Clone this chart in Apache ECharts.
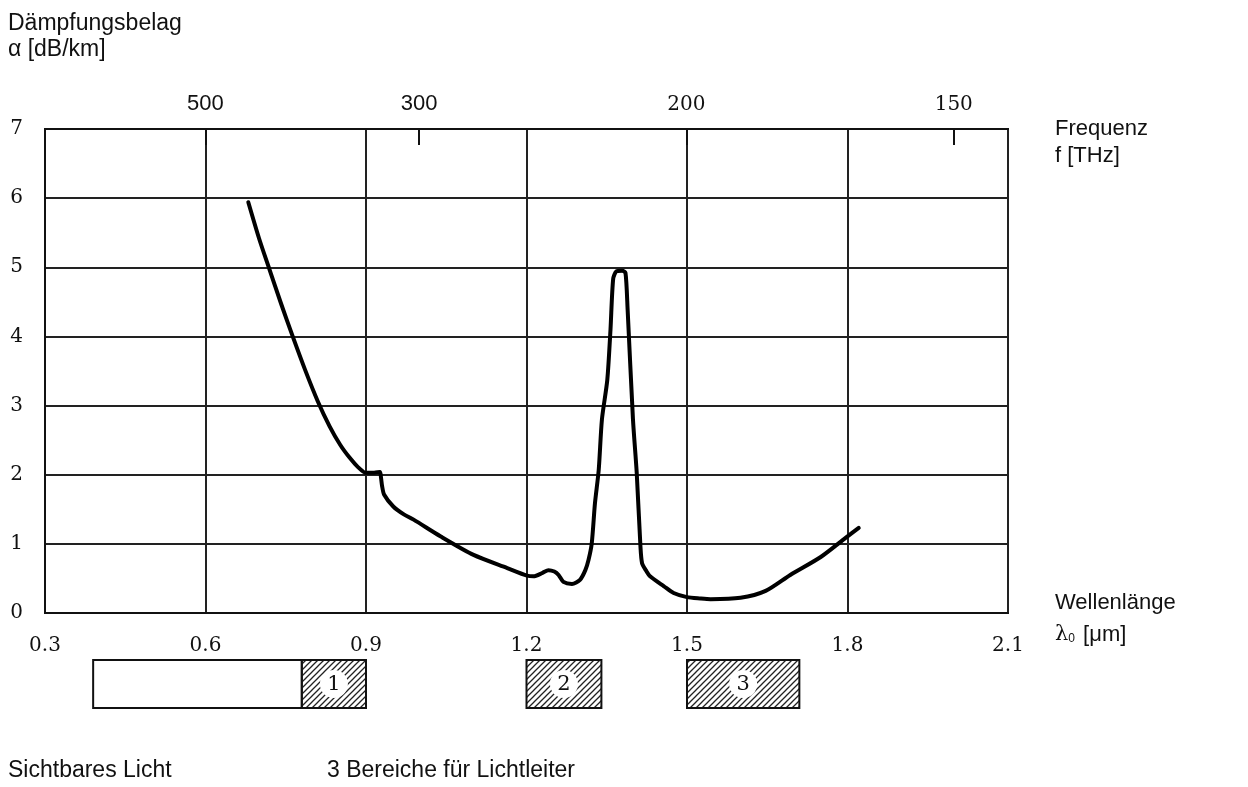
<!DOCTYPE html>
<html>
<head>
<meta charset="utf-8">
<title>Dämpfungsbelag</title>
<script src="https://cdn.jsdelivr.net/npm/echarts@6/dist/echarts.min.js"></script>
<style>
  html, body { margin: 0; padding: 0; background: #fff; }
  #tu { width: 1248px; height: 787px; }
</style>
</head>
<body>
<div id="tu"></div>
<script>
// Wellenlänge in µm und Dämpfung in dB/km
var lambda = [0.680, 0.700, 0.720, 0.741, 0.763, 0.786, 0.810, 0.832, 0.852, 0.870,
  0.885, 0.899, 0.915, 0.926, 0.928, 0.930, 0.934, 0.951, 0.970, 0.989,
  1.039, 1.101, 1.164, 1.201, 1.213, 1.230, 1.241, 1.252, 1.260, 1.269,
  1.285, 1.300, 1.310, 1.316, 1.322, 1.328, 1.335, 1.341, 1.351, 1.357,
  1.362, 1.368, 1.379, 1.385, 1.389, 1.399, 1.406, 1.413, 1.416, 1.423,
  1.431, 1.457, 1.475, 1.500, 1.525, 1.544, 1.600, 1.647, 1.693, 1.750, 1.797, 1.821];
var alpha = [5.94, 5.42, 4.96, 4.48, 4.00, 3.52, 3.06, 2.70, 2.43, 2.24,
  2.11, 2.03, 2.03, 2.04, 1.96, 1.84, 1.71, 1.54, 1.43, 1.35,
  1.11, 0.84, 0.65, 0.54, 0.53, 0.58, 0.62, 0.60, 0.55, 0.45,
  0.42, 0.48, 0.62, 0.77, 1.01, 1.59, 2.07, 2.80, 3.37, 4.10,
  4.83, 4.94, 4.95, 4.92, 4.39, 2.80, 2.03, 0.96, 0.72, 0.62,
  0.53, 0.385, 0.29, 0.23, 0.21, 0.20, 0.22, 0.32, 0.55, 0.81, 1.09, 1.23];

// obere Achse: Frequenz in THz
var freqLabels = [500, 300, 200, 150];

// Bereiche unter dem Diagramm
var bandStart = [0.39, 0.78, 1.20, 1.50];
var bandEnd = [0.78, 0.90, 1.34, 1.71];
var bandLabel = ['', '1', '2', '3'];
var bandHatched = [false, true, true, true];

var C = 299.79; // c in µm*THz
var freqPos = freqLabels.map(function (f) { return C / f; });

var curve = lambda.map(function (l, i) { return [l, alpha[i]]; });
var bands = bandStart.map(function (s, i) { return [s, bandEnd[i], i]; });

// Schraffur als Muster
var hatch = document.createElement('canvas');
hatch.width = 6;
hatch.height = 6;
var hc = hatch.getContext('2d');
hc.strokeStyle = '#222';
hc.lineWidth = 1.3;
hc.beginPath();
hc.moveTo(0, 6); hc.lineTo(6, 0);
hc.moveTo(-1, 1); hc.lineTo(1, -1);
hc.moveTo(5, 7); hc.lineTo(7, 5);
hc.stroke();

var serif = 'DejaVu Serif';
var sans = 'Liberation Sans';

var myChart = echarts.init(document.getElementById('tu'));

var option = {
  backgroundColor: '#fff',
  animation: false,
  grid: [
    { left: 45, top: 129, width: 963, height: 484, show: true, borderColor: '#111', borderWidth: 2 },
    { left: 45, top: 660, width: 963, height: 48 }
  ],
  xAxis: [
    {
      type: 'value', gridIndex: 0, position: 'bottom',
      min: 0.3, max: 2.1, interval: 0.3,
      axisLine: { show: true, lineStyle: { color: '#111', width: 2 } },
      axisTick: { show: false },
      splitLine: { show: true, lineStyle: { color: '#222', width: 2 } },
      axisLabel: {
        margin: 23, color: '#111', fontFamily: serif, fontSize: 20,
        formatter: function (v) { return v.toFixed(1); }
      }
    },
    {
      type: 'value', gridIndex: 0, position: 'top',
      min: 0.3, max: 2.1,
      axisLine: { show: true, lineStyle: { color: '#111', width: 2 } },
      axisTick: { show: true, inside: true, length: 16, customValues: freqPos, lineStyle: { color: '#111', width: 2 } },
      splitLine: { show: false },
      axisLabel: {
        margin: 14, color: '#111', fontSize: 20,
        customValues: freqPos,
        formatter: function (v) {
          var f = Math.round(C / v);
          return f >= 300 ? '{s|' + f + '}' : '{r|' + f + '}';
        },
        rich: {
          s: { fontFamily: sans, fontSize: 22, color: '#111' },
          r: { fontFamily: serif, fontSize: 20, color: '#111' }
        }
      }
    },
    { type: 'value', gridIndex: 1, min: 0.3, max: 2.1, show: false }
  ],
  yAxis: [
    {
      type: 'value', gridIndex: 0,
      min: 0, max: 7, interval: 1,
      axisLine: { show: true, lineStyle: { color: '#111', width: 2 } },
      axisTick: { show: false },
      splitLine: { show: true, lineStyle: { color: '#222', width: 2 } },
      axisLabel: {
        margin: 22, color: '#111', fontFamily: serif, fontSize: 20,
        verticalAlign: 'middle', padding: [0, 0, 6, 0]
      }
    },
    { type: 'value', gridIndex: 1, min: 0, max: 1, show: false }
  ],
  series: [
    {
      type: 'line', xAxisIndex: 0, yAxisIndex: 0,
      data: curve,
      showSymbol: false,
      smooth: 0.25,
      lineStyle: { color: '#000', width: 4, cap: 'round', join: 'round' }
    },
    {
      type: 'custom', xAxisIndex: 2, yAxisIndex: 1,
      data: bands,
      renderItem: function (params, api) {
        var i = api.value(2);
        var p0 = api.coord([api.value(0), 1]);
        var p1 = api.coord([api.value(1), 0]);
        var children = [{
          type: 'rect',
          shape: { x: p0[0], y: p0[1], width: p1[0] - p0[0], height: p1[1] - p0[1] },
          style: {
            fill: bandHatched[i] ? { image: hatch, repeat: 'repeat' } : '#fff',
            stroke: '#111', lineWidth: 2
          }
        }];
        if (bandLabel[i]) {
          var cx = (p0[0] + p1[0]) / 2, cy = (p0[1] + p1[1]) / 2;
          children.push({ type: 'circle', shape: { cx: cx, cy: cy, r: 14 }, style: { fill: '#fff' } });
          children.push({
            type: 'text', x: cx, y: cy + 1,
            style: { text: bandLabel[i], fill: '#111', font: '21px "DejaVu Serif"', align: 'center', verticalAlign: 'middle' }
          });
        }
        return { type: 'group', children: children };
      }
    }
  ],
  graphic: [
    { type: 'text', left: 8, top: 12, style: { text: 'Dämpfungsbelag', font: '23px "Liberation Sans"', fill: '#111' } },
    { type: 'text', left: 8, top: 38, style: { text: 'α [dB/km]', font: '23px "Liberation Sans"', fill: '#111' } },
    { type: 'text', left: 1055, top: 118, style: { text: 'Frequenz', font: '22px "Liberation Sans"', fill: '#111' } },
    { type: 'text', left: 1055, top: 145, style: { text: 'f [THz]', font: '22px "Liberation Sans"', fill: '#111' } },
    { type: 'text', left: 1055, top: 592, style: { text: 'Wellenlänge', font: '22px "Liberation Sans"', fill: '#111' } },
    {
      type: 'text', left: 1055, top: 624,
      style: {
        text: '{a|λ}{b|0} [μm]', font: '22px "Liberation Sans"', fill: '#111',
        rich: {
          a: { fontFamily: serif, fontSize: 21, fill: '#111' },
          b: { fontFamily: sans, fontSize: 12, fill: '#111', padding: [8, 2, 0, 0] }
        }
      }
    },
    { type: 'text', left: 8, top: 759, style: { text: 'Sichtbares Licht', font: '23px "Liberation Sans"', fill: '#111' } },
    { type: 'text', left: 327, top: 759, style: { text: '3 Bereiche für Lichtleiter', font: '23px "Liberation Sans"', fill: '#111' } }
  ]
};

myChart.setOption(option);
</script>
</body>
</html>
